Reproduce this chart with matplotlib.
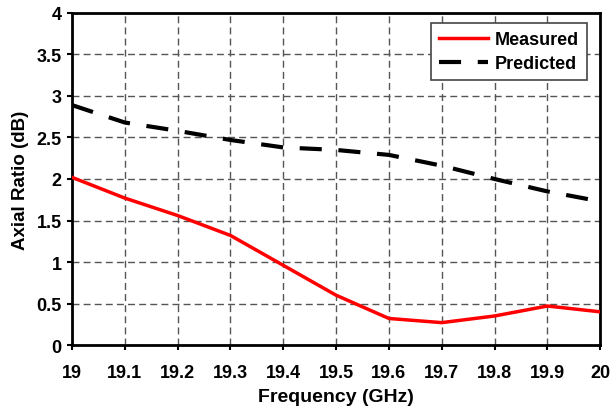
import matplotlib
matplotlib.use("Agg")
import matplotlib.pyplot as plt

freq = [19.0, 19.1, 19.2, 19.3, 19.4, 19.5, 19.6, 19.7, 19.8, 19.9, 20.0]
measured = [2.02, 1.77, 1.56, 1.32, 0.96, 0.60, 0.32, 0.27, 0.35, 0.47, 0.40]
predicted = [2.89, 2.68, 2.58, 2.47, 2.38, 2.35, 2.29, 2.16, 2.00, 1.85, 1.73]
xticks = [19, 19.1, 19.2, 19.3, 19.4, 19.5, 19.6, 19.7, 19.8, 19.9, 20]
xticklabels = ["19", "19.1", "19.2", "19.3", "19.4", "19.5", "19.6", "19.7", "19.8", "19.9", "20"]
yticks = [0, 0.5, 1, 1.5, 2, 2.5, 3, 3.5, 4]
yticklabels = ["0", "0.5", "1", "1.5", "2", "2.5", "3", "3.5", "4"]

plt.rcParams['font.family'] = ['Liberation Sans', 'DejaVu Sans']
plt.rcParams['font.weight'] = 'bold'

fig = plt.figure(figsize=(6.1, 4.1), dpi=100)
ax = fig.add_axes([0.118, 0.156, 0.866, 0.81])

ax.plot(freq, measured, color='#ff0000', lw=2.5, label='Measured', zorder=3)
ax.plot(freq, predicted, color='black', lw=3.0, dashes=(5.3, 4), label='Predicted', zorder=3)

ax.set_xlim(19, 20)
ax.set_ylim(0, 4)
ax.set_xticks(xticks)
ax.set_xticklabels(xticklabels, fontsize=13, fontweight='bold')
ax.set_yticks(yticks)
ax.set_yticklabels(yticklabels, fontsize=13, fontweight='bold')
ax.tick_params(direction='out', length=3.5, width=1.5)
ax.tick_params(axis='x', pad=10.5)
ax.tick_params(axis='y', pad=4)
ax.grid(True, color='#555555', linestyle=(0, (5, 3)), linewidth=1.0)
for s in ax.spines.values():
    s.set_linewidth(2)

ax.set_xlabel('Frequency (GHz)', fontsize=14, fontweight='bold', labelpad=5)
ax.set_ylabel('Axial Ratio (dB)', fontsize=13.5, fontweight='bold', labelpad=5)

leg = ax.legend(loc='upper right', fontsize=13, frameon=True, fancybox=False,
                edgecolor='#444444', framealpha=1, handlelength=2.7, handletextpad=0.4,
                borderpad=0.45, labelspacing=0.4, borderaxespad=0,
                bbox_to_anchor=(0.975, 0.970))
leg.get_frame().set_linewidth(1.2)
for t in leg.get_texts():
    t.set_fontweight('bold')

fig.savefig('out.png', dpi=100)
